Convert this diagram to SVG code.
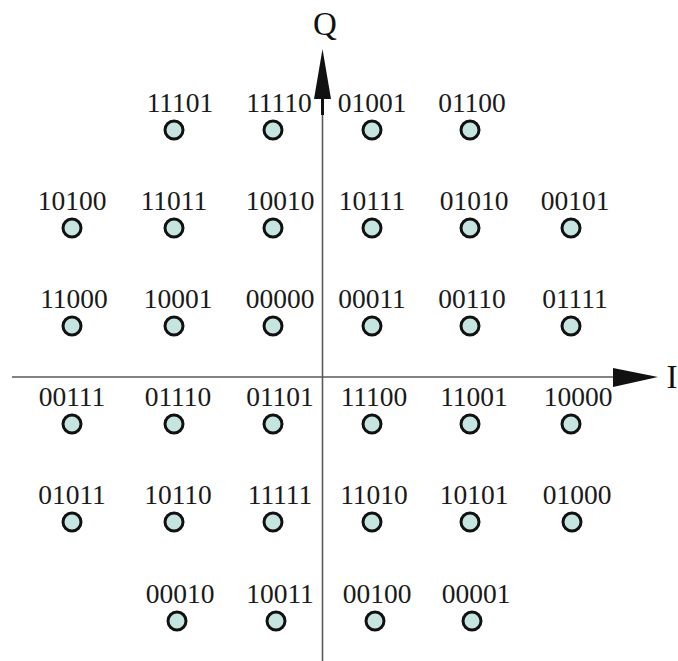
<svg xmlns="http://www.w3.org/2000/svg" width="678" height="661" viewBox="0 0 678 661">
<style>
.lbl{font-family:"Liberation Serif","Times New Roman",serif;font-size:27.5px;fill:#1a1a1a;text-anchor:middle}
.ax{font-family:"Liberation Serif","Times New Roman",serif;font-size:33px;fill:#111}
.pt{fill:#c6e4e0;stroke:#111;stroke-width:3}
.axis{stroke:#5a5a5a;stroke-width:1.6;fill:none}
</style>
<rect width="678" height="661" fill="#ffffff"/>
<g id="axes">
<line class="axis" x1="12" y1="377" x2="615" y2="377"/>
<line class="axis" x1="322.5" y1="98" x2="322.5" y2="661"/>
<line x1="322.5" y1="95" x2="322.5" y2="115" stroke="#111" stroke-width="3"/>
<polygon points="322.5,49 314,99 331,99" fill="#111"/>
<polygon points="658,377 613,368 613,387" fill="#111"/>
<text class="ax" x="325" y="35" text-anchor="middle">Q</text>
<text class="ax" x="672" y="388" text-anchor="middle">I</text>
</g>
<g id="row1">
<g id="p11101"><text class="lbl" x="180" y="112">11101</text><circle class="pt" cx="174" cy="130" r="9"/></g>
<g id="p11110"><text class="lbl" x="279" y="112">11110</text><circle class="pt" cx="273" cy="130" r="9"/></g>
<g id="p01001"><text class="lbl" x="372" y="112">01001</text><circle class="pt" cx="372" cy="130" r="9"/></g>
<g id="p01100"><text class="lbl" x="472" y="112">01100</text><circle class="pt" cx="470" cy="130" r="9"/></g>
</g>
<g id="row2">
<g id="p10100"><text class="lbl" x="72" y="210">10100</text><circle class="pt" cx="72" cy="228" r="9"/></g>
<g id="p11011"><text class="lbl" x="174" y="210">11011</text><circle class="pt" cx="174" cy="228" r="9"/></g>
<g id="p10010"><text class="lbl" x="280" y="210">10010</text><circle class="pt" cx="273" cy="228" r="9"/></g>
<g id="p10111"><text class="lbl" x="372" y="210">10111</text><circle class="pt" cx="372" cy="228" r="9"/></g>
<g id="p01010"><text class="lbl" x="474" y="210">01010</text><circle class="pt" cx="470" cy="228" r="9"/></g>
<g id="p00101"><text class="lbl" x="575" y="210">00101</text><circle class="pt" cx="571" cy="228" r="9"/></g>
</g>
<g id="row3">
<g id="p11000"><text class="lbl" x="74" y="308">11000</text><circle class="pt" cx="72" cy="326" r="9"/></g>
<g id="p10001"><text class="lbl" x="178" y="308">10001</text><circle class="pt" cx="174" cy="326" r="9"/></g>
<g id="p00000"><text class="lbl" x="280" y="308">00000</text><circle class="pt" cx="273" cy="326" r="9"/></g>
<g id="p00011"><text class="lbl" x="372" y="308">00011</text><circle class="pt" cx="372" cy="326" r="9"/></g>
<g id="p00110"><text class="lbl" x="472" y="308">00110</text><circle class="pt" cx="470" cy="326" r="9"/></g>
<g id="p01111"><text class="lbl" x="575" y="308">01111</text><circle class="pt" cx="571" cy="326" r="9"/></g>
</g>
<g id="row4">
<g id="p00111"><text class="lbl" x="72" y="406">00111</text><circle class="pt" cx="72" cy="424" r="9"/></g>
<g id="p01110"><text class="lbl" x="178" y="406">01110</text><circle class="pt" cx="174" cy="424" r="9"/></g>
<g id="p01101"><text class="lbl" x="280" y="406">01101</text><circle class="pt" cx="273" cy="424" r="9"/></g>
<g id="p11100"><text class="lbl" x="374" y="406">11100</text><circle class="pt" cx="372" cy="424" r="9"/></g>
<g id="p11001"><text class="lbl" x="474" y="406">11001</text><circle class="pt" cx="470" cy="424" r="9"/></g>
<g id="p10000"><text class="lbl" x="578" y="406">10000</text><circle class="pt" cx="571" cy="424" r="9"/></g>
</g>
<g id="row5">
<g id="p01011"><text class="lbl" x="72" y="504">01011</text><circle class="pt" cx="72" cy="522" r="9"/></g>
<g id="p10110"><text class="lbl" x="178" y="504">10110</text><circle class="pt" cx="174" cy="522" r="9"/></g>
<g id="p11111"><text class="lbl" x="280" y="504">11111</text><circle class="pt" cx="273" cy="522" r="9"/></g>
<g id="p11010"><text class="lbl" x="374" y="504">11010</text><circle class="pt" cx="372" cy="522" r="9"/></g>
<g id="p10101"><text class="lbl" x="474" y="504">10101</text><circle class="pt" cx="470" cy="522" r="9"/></g>
<g id="p01000"><text class="lbl" x="577" y="504">01000</text><circle class="pt" cx="572" cy="522" r="9"/></g>
</g>
<g id="row6">
<g id="p00010"><text class="lbl" x="180" y="603">00010</text><circle class="pt" cx="177" cy="621" r="9"/></g>
<g id="p10011"><text class="lbl" x="280" y="603">10011</text><circle class="pt" cx="276" cy="621" r="9"/></g>
<g id="p00100"><text class="lbl" x="377" y="603">00100</text><circle class="pt" cx="375" cy="621" r="9"/></g>
<g id="p00001"><text class="lbl" x="476" y="603">00001</text><circle class="pt" cx="472" cy="621" r="9"/></g>
</g>
</svg>
